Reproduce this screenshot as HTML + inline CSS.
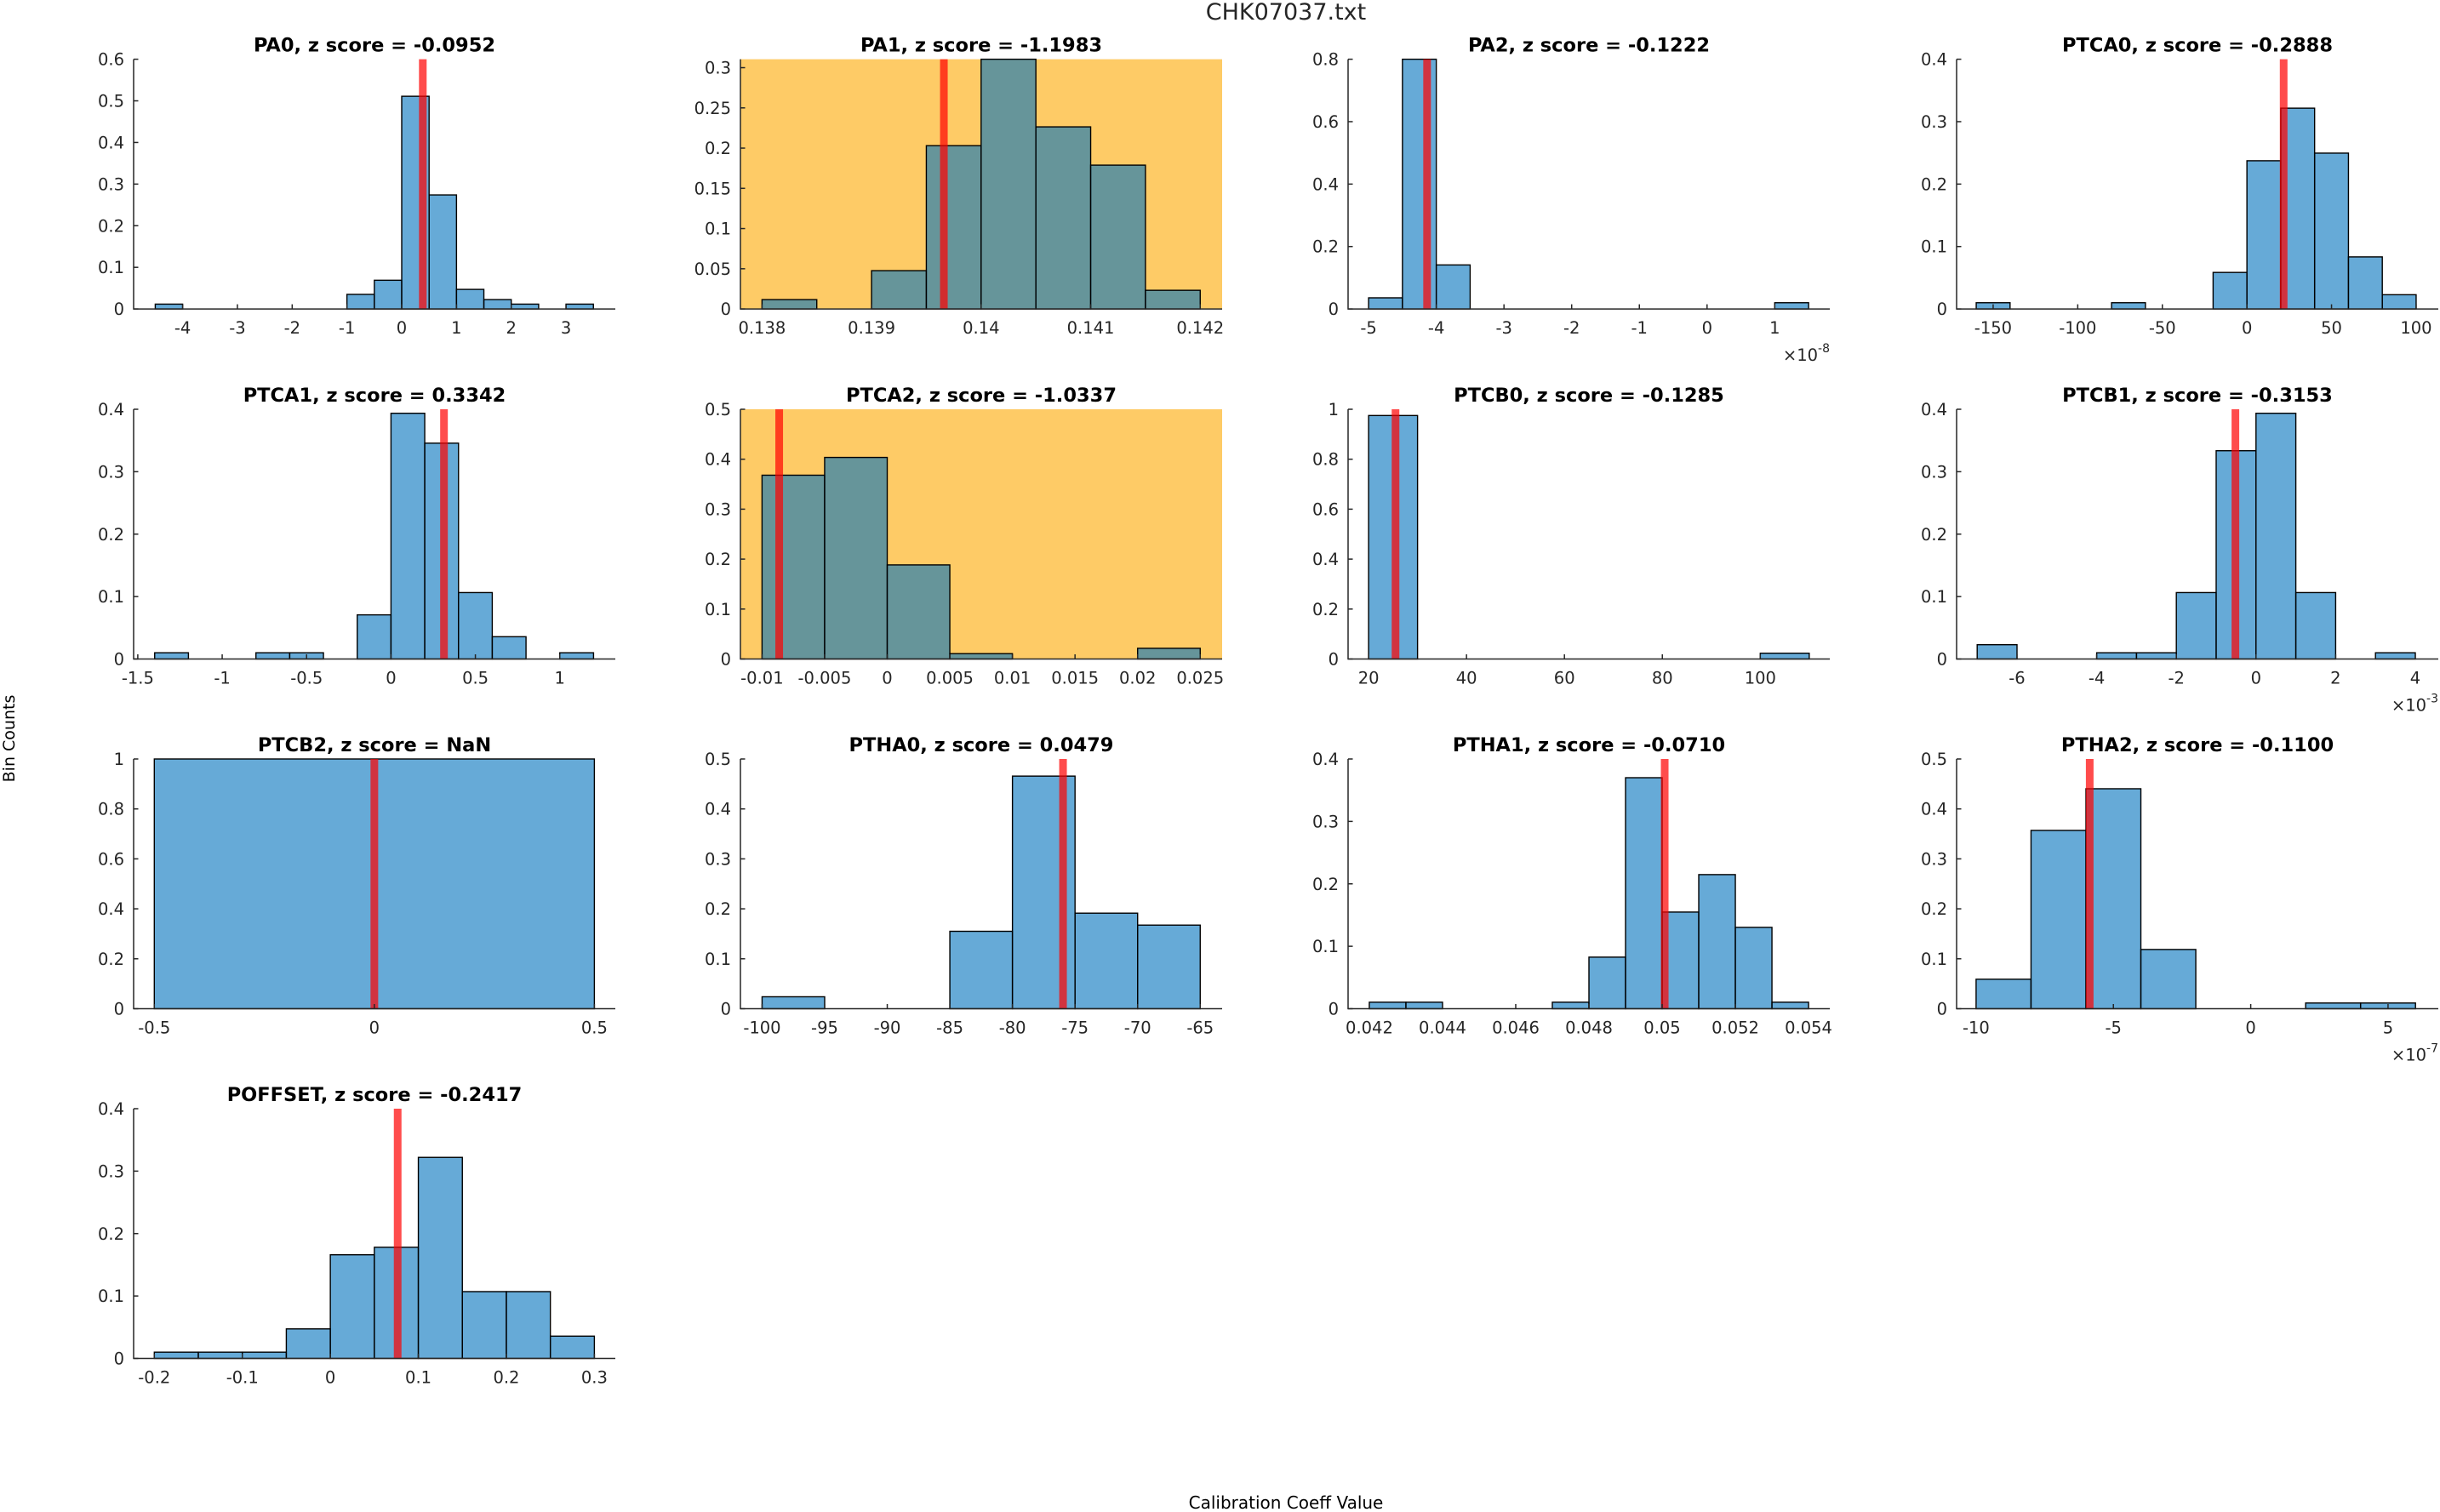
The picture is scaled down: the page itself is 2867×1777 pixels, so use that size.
<!DOCTYPE html>
<html><head><meta charset="utf-8"><style>
html,body{margin:0;padding:0;background:#fff;}
svg{display:block;font-family:"DejaVu Sans","Liberation Sans",sans-serif;}
</style></head><body>
<svg id="fig" width="2867" height="1777" viewBox="0 0 2867 1777" xmlns="http://www.w3.org/2000/svg">
<rect x="0" y="0" width="2867" height="1777" fill="#fff"/>
<text x="1511" y="23" font-size="27" fill="#262626" text-anchor="middle">CHK07037.txt</text>
<text transform="translate(17,868) rotate(-90)" font-size="19" fill="#000" text-anchor="middle">Bin Counts</text>
<text x="1511" y="1773" font-size="20" fill="#000" text-anchor="middle">Calibration Coeff Value</text>
</svg>
<script>
// ---- data (per panel) ----
const pa0Heights=[0.0116,0,0,0,0,0,0,0.035,0.069,0.511,0.274,0.047,0.0225,0.0116,0,0.0116];
const pa0Bin=[-4.5,0.5];const pa0Xlim=[-4.895,3.90];const pa0Ylim=[0,0.6];const pa0Line=0.385;
const pa0XTicks=[-4,-3,-2,-1,0,1,2,3];const pa0XLabels=["-4","-3","-2","-1","0","1","2","3"];
const pa0YTicks=[0,0.1,0.2,0.3,0.4,0.5,0.6];const pa0YLabels=["0","0.1","0.2","0.3","0.4","0.5","0.6"];

const pa1Heights=[0.0116,0,0.0476,0.203,0.3105,0.2264,0.1788,0.0232];
const pa1Bin=[0.138,0.0005];const pa1Xlim=[0.137803,0.1422];const pa1Ylim=[0,0.3105];const pa1Line=0.13966;
const pa1XTicks=[0.138,0.139,0.14,0.141,0.142];const pa1XLabels=["0.138","0.139","0.14","0.141","0.142"];
const pa1YTicks=[0,0.05,0.1,0.15,0.2,0.25,0.3];const pa1YLabels=["0","0.05","0.1","0.15","0.2","0.25","0.3"];

const pa2Heights=[0.0357,0.8,0.141,0,0,0,0,0,0,0,0,0,0.02];
const pa2Bin=[-5,0.5];const pa2Xlim=[-5.303,1.813];const pa2Ylim=[0,0.8];const pa2Line=-4.136;
const pa2XTicks=[-5,-4,-3,-2,-1,0,1];const pa2XLabels=["-5","-4","-3","-2","-1","0","1"];
const pa2YTicks=[0,0.2,0.4,0.6,0.8];const pa2YLabels=["0","0.2","0.4","0.6","0.8"];

const ptca0Heights=[0.01,0,0,0,0.01,0,0,0.0585,0.2374,0.3216,0.2496,0.0834,0.0228];
const ptca0Bin=[-160,20];const ptca0Xlim=[-171.6,113.1];const ptca0Ylim=[0,0.4];const ptca0Line=21.7;
const ptca0XTicks=[-150,-100,-50,0,50,100];const ptca0XLabels=["-150","-100","-50","0","50","100"];
const ptca0YTicks=[0,0.1,0.2,0.3,0.4];const ptca0YLabels=["0","0.1","0.2","0.3","0.4"];

const ptca1Heights=[0.01,0,0,0.01,0.01,0,0.0707,0.3936,0.3457,0.1064,0.0357,0,0.01];
const ptca1Bin=[-1.4,0.2];const ptca1Xlim=[-1.5247,1.329];const ptca1Ylim=[0,0.4];const ptca1Line=0.314;
const ptca1XTicks=[-1.5,-1,-0.5,0,0.5,1];const ptca1XLabels=["-1.5","-1","-0.5","0","0.5","1"];
const ptca1YTicks=[0,0.1,0.2,0.3,0.4];const ptca1YLabels=["0","0.1","0.2","0.3","0.4"];

const ptca2Heights=[0.368,0.4036,0.1884,0.0107,0,0,0.0214];
const ptca2Bin=[-0.01,0.005];const ptca2Xlim=[-0.011726,0.02675];const ptca2Ylim=[0,0.5];const ptca2Line=-0.00863;
const ptca2XTicks=[-0.01,-0.005,0,0.005,0.01,0.015,0.02,0.025];const ptca2XLabels=["-0.01","-0.005","0","0.005","0.01","0.015","0.02","0.025"];
const ptca2YTicks=[0,0.1,0.2,0.3,0.4,0.5];const ptca2YLabels=["0","0.1","0.2","0.3","0.4","0.5"];

const ptcb0Heights=[0.975,0,0,0,0,0,0,0,0.0232];
const ptcb0Bin=[20,10];const ptcb0Xlim=[15.81,114.2];const ptcb0Ylim=[0,1];const ptcb0Line=25.5;
const ptcb0XTicks=[20,40,60,80,100];const ptcb0XLabels=["20","40","60","80","100"];
const ptcb0YTicks=[0,0.2,0.4,0.6,0.8,1];const ptcb0YLabels=["0","0.2","0.4","0.6","0.8","1"];

const ptcb1Heights=[0.0229,0,0,0.01,0.01,0.1064,0.3336,0.3936,0.1064,0,0.01];
const ptcb1Bin=[-7,1];const ptcb1Xlim=[-7.517,4.577];const ptcb1Ylim=[0,0.4];const ptcb1Line=-0.517;
const ptcb1XTicks=[-6,-4,-2,0,2,4];const ptcb1XLabels=["-6","-4","-2","0","2","4"];
const ptcb1YTicks=[0,0.1,0.2,0.3,0.4];const ptcb1YLabels=["0","0.1","0.2","0.3","0.4"];

const ptcb2Heights=[1];
const ptcb2Bin=[-0.5,1];const ptcb2Xlim=[-0.547,0.5476];const ptcb2Ylim=[0,1];const ptcb2Line=0;
const ptcb2XTicks=[-0.5,0,0.5];const ptcb2XLabels=["-0.5","0","0.5"];
const ptcb2YTicks=[0,0.2,0.4,0.6,0.8,1];const ptcb2YLabels=["0","0.2","0.4","0.6","0.8","1"];

const ptha0Heights=[0.0239,0,0,0.155,0.4657,0.1913,0.1674];
const ptha0Bin=[-100,5];const ptha0Xlim=[-101.73,-63.25];const ptha0Ylim=[0,0.5];const ptha0Line=-75.96;
const ptha0XTicks=[-100,-95,-90,-85,-80,-75,-70,-65];const ptha0XLabels=["-100","-95","-90","-85","-80","-75","-70","-65"];
const ptha0YTicks=[0,0.1,0.2,0.3,0.4,0.5];const ptha0YLabels=["0","0.1","0.2","0.3","0.4","0.5"];

const ptha1Heights=[0.0104,0.0104,0,0,0,0.0104,0.0826,0.370,0.1548,0.2148,0.1303,0.0104];
const ptha1Bin=[0.042,0.001];const ptha1Xlim=[0.04142,0.05458];const ptha1Ylim=[0,0.4];const ptha1Line=0.05007;
const ptha1XTicks=[0.042,0.044,0.046,0.048,0.05,0.052,0.054];const ptha1XLabels=["0.042","0.044","0.046","0.048","0.05","0.052","0.054"];
const ptha1YTicks=[0,0.1,0.2,0.3,0.4];const ptha1YLabels=["0","0.1","0.2","0.3","0.4"];

const ptha2Heights=[0.059,0.357,0.4404,0.1186,0,0,0.0114,0.0114];
const ptha2Bin=[-10,2];const ptha2Xlim=[-10.71,6.83];const ptha2Ylim=[0,0.5];const ptha2Line=-5.863;
const ptha2XTicks=[-10,-5,0,5];const ptha2XLabels=["-10","-5","0","5"];
const ptha2YTicks=[0,0.1,0.2,0.3,0.4,0.5];const ptha2YLabels=["0","0.1","0.2","0.3","0.4","0.5"];

const poffHeights=[0.01,0.01,0.01,0.0473,0.166,0.178,0.322,0.107,0.107,0.0357];
const poffBin=[-0.2,0.05];const poffXlim=[-0.2235,0.3238];const poffYlim=[0,0.4];const poffLine=0.0765;
const poffXTicks=[-0.2,-0.1,0,0.1,0.2,0.3];const poffXLabels=["-0.2","-0.1","0","0.1","0.2","0.3"];
const poffYTicks=[0,0.1,0.2,0.3,0.4];const poffYLabels=["0","0.1","0.2","0.3","0.4"];

const panelTitles=["PA0, z score = -0.0952","PA1, z score = -1.1983","PA2, z score = -0.1222","PTCA0, z score = -0.2888","PTCA1, z score = 0.3342","PTCA2, z score = -1.0337","PTCB0, z score = -0.1285","PTCB1, z score = -0.3153","PTCB2, z score = NaN","PTHA0, z score = 0.0479","PTHA1, z score = -0.0710","PTHA2, z score = -0.1100","POFFSET, z score = -0.2417"];
const panelFlagged=[false,true,false,false,false,true,false,false,false,false,false,false,false];
const panelExponent=["","","-8","","","","","-3","","","","-7",""];

// ---- rendering ----
const NS="http://www.w3.org/2000/svg";
const svg=document.getElementById('fig');
const colX=[157,870,1584,2299],rowY=[69.6,481,892,1303],AW=566,AH=293.5;
const panels=[
[pa0Heights,pa0Bin,pa0Xlim,pa0Ylim,pa0Line,pa0XTicks,pa0XLabels,pa0YTicks,pa0YLabels],
[pa1Heights,pa1Bin,pa1Xlim,pa1Ylim,pa1Line,pa1XTicks,pa1XLabels,pa1YTicks,pa1YLabels],
[pa2Heights,pa2Bin,pa2Xlim,pa2Ylim,pa2Line,pa2XTicks,pa2XLabels,pa2YTicks,pa2YLabels],
[ptca0Heights,ptca0Bin,ptca0Xlim,ptca0Ylim,ptca0Line,ptca0XTicks,ptca0XLabels,ptca0YTicks,ptca0YLabels],
[ptca1Heights,ptca1Bin,ptca1Xlim,ptca1Ylim,ptca1Line,ptca1XTicks,ptca1XLabels,ptca1YTicks,ptca1YLabels],
[ptca2Heights,ptca2Bin,ptca2Xlim,ptca2Ylim,ptca2Line,ptca2XTicks,ptca2XLabels,ptca2YTicks,ptca2YLabels],
[ptcb0Heights,ptcb0Bin,ptcb0Xlim,ptcb0Ylim,ptcb0Line,ptcb0XTicks,ptcb0XLabels,ptcb0YTicks,ptcb0YLabels],
[ptcb1Heights,ptcb1Bin,ptcb1Xlim,ptcb1Ylim,ptcb1Line,ptcb1XTicks,ptcb1XLabels,ptcb1YTicks,ptcb1YLabels],
[ptcb2Heights,ptcb2Bin,ptcb2Xlim,ptcb2Ylim,ptcb2Line,ptcb2XTicks,ptcb2XLabels,ptcb2YTicks,ptcb2YLabels],
[ptha0Heights,ptha0Bin,ptha0Xlim,ptha0Ylim,ptha0Line,ptha0XTicks,ptha0XLabels,ptha0YTicks,ptha0YLabels],
[ptha1Heights,ptha1Bin,ptha1Xlim,ptha1Ylim,ptha1Line,ptha1XTicks,ptha1XLabels,ptha1YTicks,ptha1YLabels],
[ptha2Heights,ptha2Bin,ptha2Xlim,ptha2Ylim,ptha2Line,ptha2XTicks,ptha2XLabels,ptha2YTicks,ptha2YLabels],
[poffHeights,poffBin,poffXlim,poffYlim,poffLine,poffXTicks,poffXLabels,poffYTicks,poffYLabels]
];
function mk(tag,attrs,parent){const e=document.createElementNS(NS,tag);for(const k in attrs)e.setAttribute(k,attrs[k]);(parent||svg).appendChild(e);return e;}
panels.forEach((p,i)=>{
  const [H,bin,xl,yl,line,xt,xlab,yt,ylab]=p;
  const L=colX[i%4],T=rowY[Math.floor(i/4)],B=T+AH,R=L+AW;
  const sx=v=>L+(v-xl[0])/(xl[1]-xl[0])*AW;
  const sy=v=>B-(v-yl[0])/(yl[1]-yl[0])*AH;
  const g=mk('g',{});
  
  
  if(panelFlagged[i]){
    const bg=mk('rect',{x:L,y:T,width:AW,height:AH,fill:'rgb(254,203,102)'},g);
    
    
  }
  H.forEach((h,j)=>{
    const x0=sx(bin[0]+j*bin[1]),x1=sx(bin[0]+(j+1)*bin[1]);
    const r=mk('rect',{x:x0,y:sy(h),width:x1-x0,height:B-sy(h),fill:'rgb(0,114,189)','fill-opacity':0.6,stroke:'#000','stroke-width':1.4},g);
    
    
  });
  const ln=mk('rect',{x:sx(line)-4.5,y:T,width:9,height:AH,fill:'rgb(255,0,0)','fill-opacity':0.7},g);
  
  
  const ax=mk('path',{d:`M${L},${T}V${B}H${R}`,fill:'none',stroke:'#262626','stroke-width':1.5},g);
  
  
  xt.forEach((v,j)=>{
    mk('line',{x1:sx(v),x2:sx(v),y1:B,y2:B-5.5,stroke:'#262626','stroke-width':1.5},g);
    const t=mk('text',{x:sx(v),y:B+29,'font-size':19.5,fill:'#262626','text-anchor':'middle'},g);
    t.textContent=xlab[j];
    
    
  });
  yt.forEach((v,j)=>{
    mk('line',{x1:L,x2:L+5.5,y1:sy(v),y2:sy(v),stroke:'#262626','stroke-width':1.5},g);
    const t=mk('text',{x:L-11,y:sy(v)+7,'font-size':19.5,fill:'#262626','text-anchor':'end'},g);
    t.textContent=ylab[j];
    
    
  });
  const tt=mk('text',{x:(L+R)/2,y:T-9,'font-size':22.5,'font-weight':'bold',fill:'#000','text-anchor':'middle'},g);
  tt.textContent=panelTitles[i];
  
  
  if(panelExponent[i]){
    const ex=mk('text',{x:R,y:B+61,'font-size':19.5,fill:'#262626','text-anchor':'end'},g);
    
    
    const a=mk('tspan',{},ex);a.textContent='×10';
    const b=mk('tspan',{dy:-10,'font-size':14},ex);b.textContent=panelExponent[i];
  }
});
</script>
</body></html>
